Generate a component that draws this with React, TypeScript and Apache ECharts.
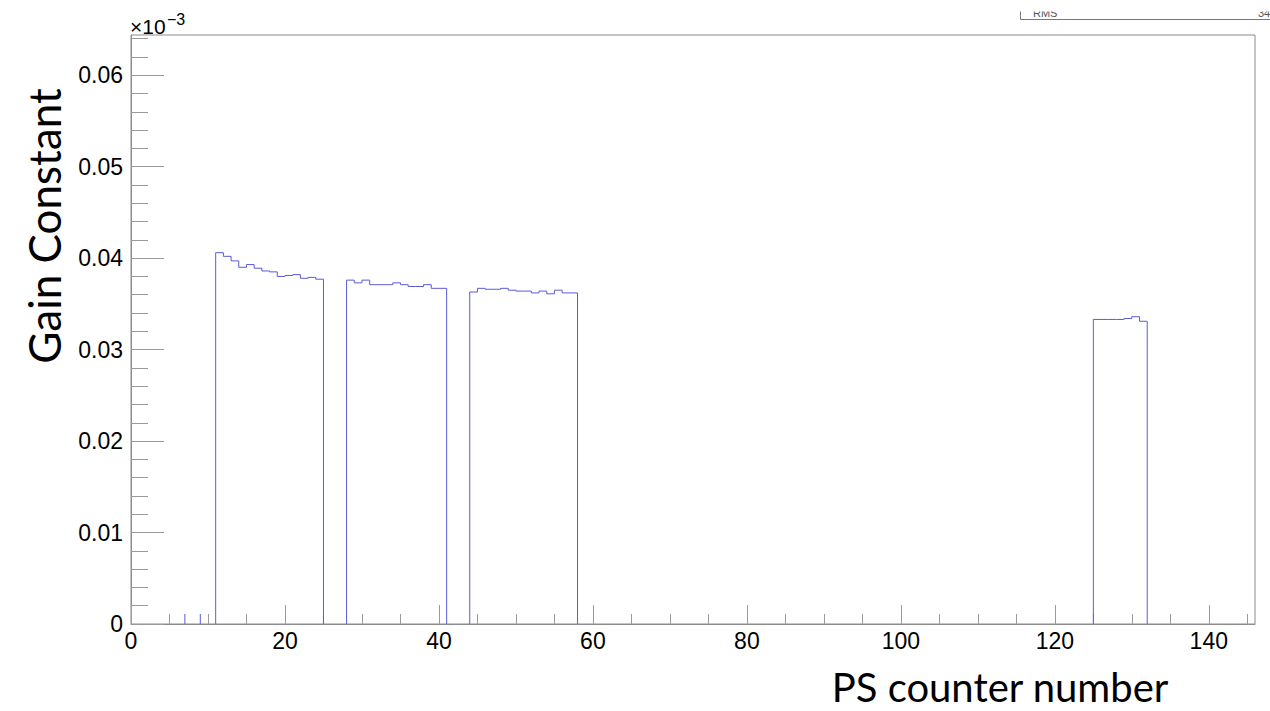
import { useEffect, useRef } from "react";
import * as echarts from "echarts";

// Axis ranges and labelled ticks
const xMax = 146;
const yMax = 0.0644;
const xTickValues = [0, 20, 40, 60, 80, 100, 120, 140];
const yTickValues = [0, 0.01, 0.02, 0.03, 0.04, 0.05, 0.06];

// First counter of each filled run of bins (bin width = 1 counter)
const runStarts = [11, 28, 44, 125];
// Gain constant per counter (axis units, ×10^-3)
const gainRun1 = [0.0406, 0.0402, 0.0397, 0.039, 0.0393, 0.0389, 0.0386, 0.0385, 0.038, 0.0381, 0.0382, 0.0378, 0.0379, 0.0377];
const gainRun2 = [0.0376, 0.0373, 0.0376, 0.0371, 0.0371, 0.0371, 0.0373, 0.0371, 0.0369, 0.0369, 0.0371, 0.0367, 0.0367];
const gainRun3 = [0.0363, 0.0367, 0.0366, 0.0366, 0.0367, 0.0365, 0.0364, 0.0364, 0.0362, 0.0364, 0.0361, 0.0365, 0.0362, 0.0362];
const gainRun4 = [0.0333, 0.0333, 0.0333, 0.0333, 0.0334, 0.0336, 0.0331];
const gainRuns = [gainRun1, gainRun2, gainRun3, gainRun4];

// Isolated edge marks near the start of the range
const spikeCounters = [7, 9];
const spikeGain = [0.0011, 0.0011];

const HIST_COLOR = "#5b5bd6";
const AXIS_COLOR = "#8c8c8c";
const TICK_COLOR = "#9a9a9a";
const ROOT_FONT = "Liberation Sans, Arial, sans-serif";
const TITLE_FONT = "Lato, sans-serif";

// Histogram outline (ROOT "HIST" style) for one run of consecutive bins
function stepOutline(start: number, gains: number[]): number[][] {
  const pts: number[][] = [[start, 0]];
  gains.forEach((g, i) => {
    pts.push([start + i, g]);
    pts.push([start + i + 1, g]);
  });
  pts.push([start + gains.length, 0]);
  return pts;
}

export default function App() {
  const ref = useRef<HTMLDivElement>(null);

  useEffect(() => {
    if (!ref.current) return;
    const chart = echarts.init(ref.current, null, { renderer: "svg" });

    const runSeries = runStarts.map((start, k) => ({
      type: "line" as const,
      data: stepOutline(start, gainRuns[k]),
      showSymbol: false,
      symbol: "none",
      silent: true,
      lineStyle: { color: HIST_COLOR, width: 1 },
    }));
    const spikeSeries = spikeCounters.map((c, k) => ({
      type: "line" as const,
      data: [
        [c, 0],
        [c, spikeGain[k]],
      ],
      showSymbol: false,
      symbol: "none",
      silent: true,
      lineStyle: { color: HIST_COLOR, width: 1 },
    }));

    chart.setOption({
      animation: false,
      backgroundColor: "#ffffff",
      grid: {
        left: 131,
        right: 15,
        top: 35,
        bottom: 87,
        show: true,
        borderColor: AXIS_COLOR,
        borderWidth: 1,
        backgroundColor: "transparent",
      },
      xAxis: {
        type: "value",
        min: 0,
        max: xMax,
        interval: 20,
        axisLine: { show: true, onZero: false, lineStyle: { color: AXIS_COLOR, width: 1 } },
        axisTick: {
          show: true,
          inside: true,
          length: 19,
          customValues: xTickValues,
          lineStyle: { color: TICK_COLOR, width: 1 },
        },
        minorTick: { show: true, splitNumber: 4, length: 10, lineStyle: { color: TICK_COLOR, width: 1 } },
        axisLabel: {
          customValues: xTickValues,
          color: "#000",
          fontSize: 23,
          fontFamily: ROOT_FONT,
          margin: 5,
          formatter: (v: number) => (v % 20 === 0 ? String(v) : ""),
        },
        splitLine: { show: false },
      },
      yAxis: {
        type: "value",
        min: 0,
        max: yMax,
        interval: 0.01,
        axisLine: { show: true, onZero: false, lineStyle: { color: AXIS_COLOR, width: 1 } },
        axisTick: {
          show: true,
          inside: true,
          length: 33,
          customValues: yTickValues,
          lineStyle: { color: TICK_COLOR, width: 1 },
        },
        minorTick: { show: true, splitNumber: 5, length: 17, lineStyle: { color: TICK_COLOR, width: 1 } },
        axisLabel: {
          customValues: yTickValues,
          color: "#000",
          fontSize: 23,
          fontFamily: ROOT_FONT,
          margin: 8,
          formatter: (v: number) => (v === 0 ? "0" : v.toFixed(2)),
        },
        splitLine: { show: false },
      },
      graphic: [
        // axis multiplier
        {
          type: "text",
          x: 130,
          y: 26.5,
          style: { text: "×10", fontSize: 21, fontFamily: ROOT_FONT, fill: "#000", align: "left", verticalAlign: "middle" },
        },
        {
          type: "text",
          x: 167,
          y: 19.5,
          style: { text: "−3", fontSize: 16, fontFamily: ROOT_FONT, fill: "#000", align: "left", verticalAlign: "middle" },
        },
        // axis titles
        {
          type: "text",
          x: 44,
          y: 226,
          rotation: Math.PI / 2,
          style: { text: "Gain Constant", fontSize: 44, fontFamily: TITLE_FONT, fill: "#000", align: "center", verticalAlign: "middle" },
        },
        {
          type: "text",
          x: 1000,
          y: 687,
          style: { text: "PS counter number", fontSize: 40, fontFamily: TITLE_FONT, fill: "#000", align: "center", verticalAlign: "middle" },
        },
        // corner of the statistics box
        {
          type: "text",
          x: 1033,
          y: 13,
          style: { text: "RMS", fontSize: 11, fontFamily: ROOT_FONT, fill: "#555", align: "left", verticalAlign: "middle" },
        },
        {
          type: "text",
          x: 1258,
          y: 13,
          style: { text: "34", fontSize: 11, fontFamily: ROOT_FONT, fill: "#555", align: "left", verticalAlign: "middle" },
        },
        {
          type: "rect",
          z: 100,
          shape: { x: 995, y: 0, width: 275, height: 11.5 },
          style: { fill: "#ffffff" },
        },
        {
          type: "line",
          z: 101,
          shape: { x1: 1020.5, y1: 11.5, x2: 1020.5, y2: 19.5 },
          style: { stroke: "#777", lineWidth: 1 },
        },
        {
          type: "line",
          z: 101,
          shape: { x1: 1020.5, y1: 19.5, x2: 1270, y2: 19.5 },
          style: { stroke: "#777", lineWidth: 1 },
        },
      ],
      series: [...runSeries, ...spikeSeries],
    });

    return () => chart.dispose();
  }, []);

  return (
    <div
      ref={ref}
      style={{ position: "absolute", left: 0, top: 0, width: 1270, height: 711, background: "#fff" }}
    />
  );
}
